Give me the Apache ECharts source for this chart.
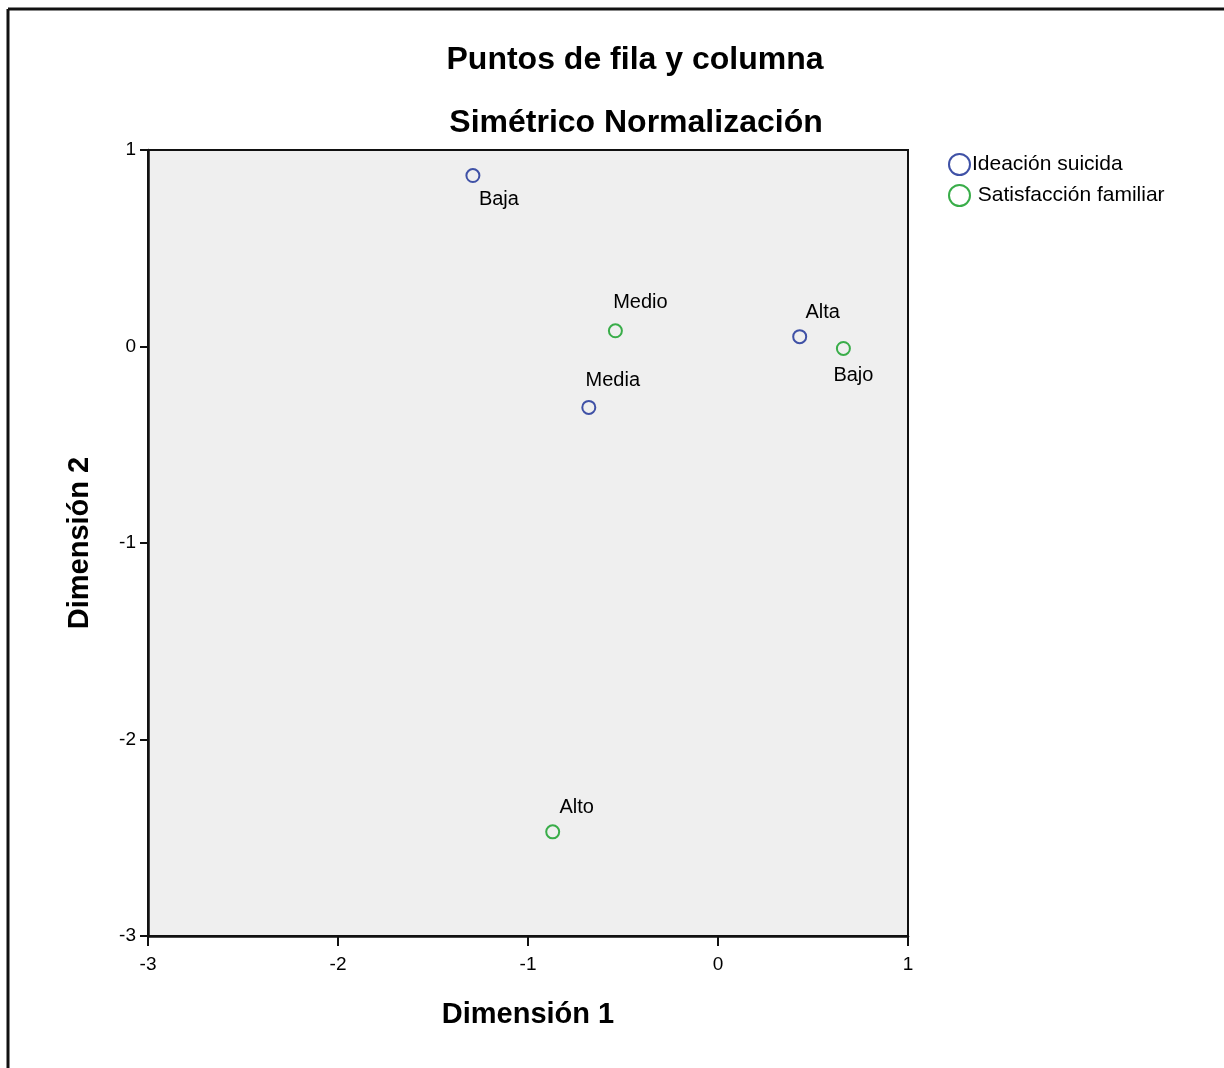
<!DOCTYPE html>
<html>
<head>
<meta charset="utf-8">
<script src="https://cdn.jsdelivr.net/npm/echarts@6/dist/echarts.min.js"></script>
<style>
html,body{margin:0;padding:0;background:#fff;}
#main{width:1224px;height:1068px;}
</style>
</head>
<body>
<div id="main"></div>
<script>
// ---- data ----
var rowNames = ['Baja', 'Media', 'Alta'];          // Ideación suicida
var rowDim1 = [-1.29, -0.68, 0.43];
var rowDim2 = [0.87, -0.31, 0.05];

var colNames = ['Alto', 'Medio', 'Bajo'];          // Satisfacción familiar
var colDim1 = [-0.87, -0.54, 0.66];
var colDim2 = [-2.47, 0.08, -0.01];

var xTicks = [-3, -2, -1, 0, 1];
var yTicks = [-3, -2, -1, 0, 1];

var seriesNames = ['Ideación suicida', 'Satisfacción familiar'];
var seriesColors = ['#3f51a6', '#39ad49'];

// label placement (style only, keyed by name)
var labelPlace = {
  'Baja':  { position: 'bottom', offset: [26, 1] },
  'Media': { position: 'top', offset: [24, -4] },
  'Alta':  { position: 'top', offset: [23, -2] },
  'Alto':  { position: 'top', offset: [24, -2] },
  'Medio': { position: 'top', offset: [25, -6] },
  'Bajo':  { position: 'bottom', offset: [10, 5] }
};

function build(names, xs, ys) {
  return names.map(function (n, i) {
    var p = labelPlace[n];
    return {
      name: n,
      value: [xs[i], ys[i]],
      label: { position: p.position, offset: p.offset }
    };
  });
}

var chart = echarts.init(document.getElementById('main'));
var FONT = '"Liberation Sans", Arial, sans-serif';

function mkSeries(idx, data) {
  return {
    name: seriesNames[idx],
    type: 'scatter',
    symbol: 'circle',
    symbolSize: 13,
    itemStyle: { color: 'transparent', borderColor: seriesColors[idx], borderWidth: 2, opacity: 1 },
    label: {
      show: true,
      formatter: '{b}',
      color: '#000',
      fontFamily: FONT,
      fontSize: 20
    },
    emphasis: { disabled: true },
    data: data
  };
}

chart.setOption({
  backgroundColor: '#ffffff',
  animation: false,
  title: [
    { text: 'Puntos de fila y columna', left: 630, top: 39, textAlign: 'center',
      textStyle: { fontFamily: FONT, fontSize: 32, fontWeight: 'bold', color: '#000' } },
    { text: 'Simétrico Normalización', left: 631, top: 102, textAlign: 'center',
      textStyle: { fontFamily: FONT, fontSize: 32, fontWeight: 'bold', color: '#000' } }
  ],
  legend: {
    orient: 'vertical',
    left: 943,
    top: 148,
    itemWidth: 21,
    itemHeight: 21,
    itemGap: 8,
    icon: 'circle',
    selectedMode: false,
    textStyle: { fontFamily: FONT, fontSize: 21, color: '#000', padding: [0, 0, 0, -3] },
    data: [
      { name: seriesNames[0], itemStyle: { color: 'transparent', borderColor: seriesColors[0], borderWidth: 2 } },
      { name: seriesNames[1], itemStyle: { color: 'transparent', borderColor: seriesColors[1], borderWidth: 2 } }
    ],
    formatter: function (n) { return n === seriesNames[1] ? ' ' + n : n; }
  },
  grid: {
    left: 148, top: 150, width: 760, height: 786,
    show: true, backgroundColor: '#efefef', borderColor: '#111', borderWidth: 2
  },
  xAxis: {
    type: 'value', min: xTicks[0], max: xTicks[xTicks.length - 1], interval: 1,
    name: 'Dimensión 1', nameLocation: 'middle', nameGap: 64,
    nameTextStyle: { fontFamily: FONT, fontSize: 29, fontWeight: 'bold', color: '#000' },
    axisLine: { show: true, onZero: false, lineStyle: { color: '#111', width: 2.5 } },
    axisTick: { show: true, inside: false, length: 10, lineStyle: { color: '#111', width: 2 } },
    axisLabel: { fontFamily: FONT, fontSize: 19, color: '#000', margin: 19 },
    splitLine: { show: false }
  },
  yAxis: {
    type: 'value', min: yTicks[0], max: yTicks[yTicks.length - 1], interval: 1,
    name: 'Dimensión 2', nameLocation: 'middle', nameGap: 54, nameRotate: 90,
    nameTextStyle: { fontFamily: FONT, fontSize: 29, fontWeight: 'bold', color: '#000' },
    axisLine: { show: true, onZero: false, lineStyle: { color: '#111', width: 2.5 } },
    axisTick: { show: true, inside: false, length: 8, lineStyle: { color: '#111', width: 2 } },
    axisLabel: { fontFamily: FONT, fontSize: 19, color: '#000', margin: 12 },
    splitLine: { show: false }
  },
  graphic: [
    { type: 'line', shape: { x1: 8, y1: 9, x2: 1224, y2: 9 }, style: { stroke: '#111', lineWidth: 3 } },
    { type: 'line', shape: { x1: 8, y1: 9, x2: 8, y2: 1068 }, style: { stroke: '#111', lineWidth: 3 } }
  ],
  series: [
    mkSeries(0, build(rowNames, rowDim1, rowDim2)),
    mkSeries(1, build(colNames, colDim1, colDim2))
  ]
});
</script>
</body>
</html>
